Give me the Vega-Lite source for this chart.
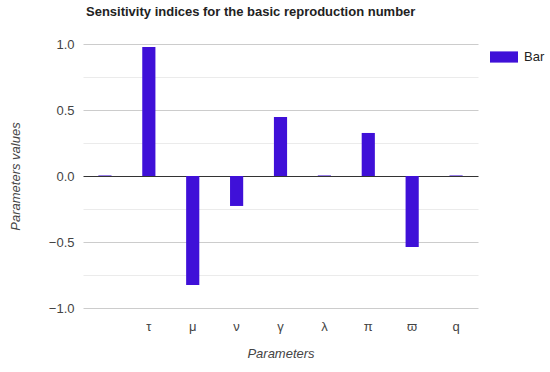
{
  "$schema": "https://vega.github.io/schema/vega-lite/v6.json",
  "width": 395,
  "height": 264,
  "autosize": "none",
  "padding": {"left": 83, "top": 44, "right": 72, "bottom": 64},
  "background": "white",
  "title": {
    "text": "Sensitivity indices for the basic reproduction number",
    "anchor": "start",
    "frame": "group",
    "font": "Liberation Sans",
    "fontSize": 13,
    "fontWeight": "bold",
    "color": "#222222",
    "offset": 19,
    "dx": 3
  },
  "config": {
    "view": {"stroke": null},
    "font": "Liberation Sans"
  },
  "data": {
    "values": [
      {"param": " ", "value": 0.004, "series": "Bar"},
      {"param": "τ", "value": 0.977, "series": "Bar"},
      {"param": "μ", "value": -0.826, "series": "Bar"},
      {"param": "ν", "value": -0.227, "series": "Bar"},
      {"param": "γ", "value": 0.447, "series": "Bar"},
      {"param": "λ", "value": 0.004, "series": "Bar"},
      {"param": "π", "value": 0.326, "series": "Bar"},
      {"param": "ϖ", "value": -0.538, "series": "Bar"},
      {"param": "q", "value": 0.004, "series": "Bar"}
    ]
  },
  "mark": {"type": "bar"},
  "encoding": {
    "x": {
      "field": "param",
      "type": "nominal",
      "sort": [" ", "τ", "μ", "ν", "γ", "λ", "π", "ϖ", "q"],
      "scale": {"paddingInner": 0.7, "paddingOuter": 0.35},
      "axis": {
        "title": "Parameters",
        "titleFont": "Liberation Sans",
        "titleFontStyle": "italic",
        "titleFontWeight": "normal",
        "titleFontSize": 13,
        "titleColor": "#444444",
        "titlePadding": 14,
        "labelAngle": 0,
        "labelFontSize": 13,
        "labelColor": "#444444",
        "labelPadding": 12,
        "domain": false,
        "ticks": false,
        "grid": false
      }
    },
    "y": {
      "field": "value",
      "type": "quantitative",
      "scale": {"domain": [-1, 1], "nice": false, "zero": false},
      "axis": {
        "title": "Parameters  values",
        "titleFont": "Liberation Sans",
        "titleFontStyle": "italic",
        "titleFontWeight": "normal",
        "titleFontSize": 13,
        "titleColor": "#444444",
        "titleX": -68,
        "titleY": 132,
        "titleAngle": -90,
        "titleAlign": "center",
        "titleBaseline": "middle",
        "values": [-1, -0.75, -0.5, -0.25, 0, 0.25, 0.5, 0.75, 1],
        "labelExpr": "abs(datum.value*2 - round(datum.value*2)) < 0.001 ? format(datum.value, '.1f') : ''",
        "labelFontSize": 13,
        "labelColor": "#444444",
        "labelPadding": 9,
        "domain": false,
        "ticks": false,
        "grid": true,
        "gridColor": {
          "condition": [
            {"test": "datum.value == 0", "value": "#333333"},
            {"test": "abs(datum.value*2 - round(datum.value*2)) < 0.001", "value": "#cccccc"}
          ],
          "value": "#ebebeb"
        }
      }
    },
    "color": {
      "field": "series",
      "type": "nominal",
      "scale": {"range": ["#3f10d8"]},
      "legend": {
        "title": null,
        "orient": "none",
        "legendX": 407,
        "legendY": -1,
        "symbolType": "M-1,-0.4H1V0.4H-1Z",
        "symbolSize": 784,
        "symbolStrokeWidth": 0,
        "labelFontSize": 13,
        "labelColor": "#222222",
        "labelOffset": 6
      }
    }
  }
}
